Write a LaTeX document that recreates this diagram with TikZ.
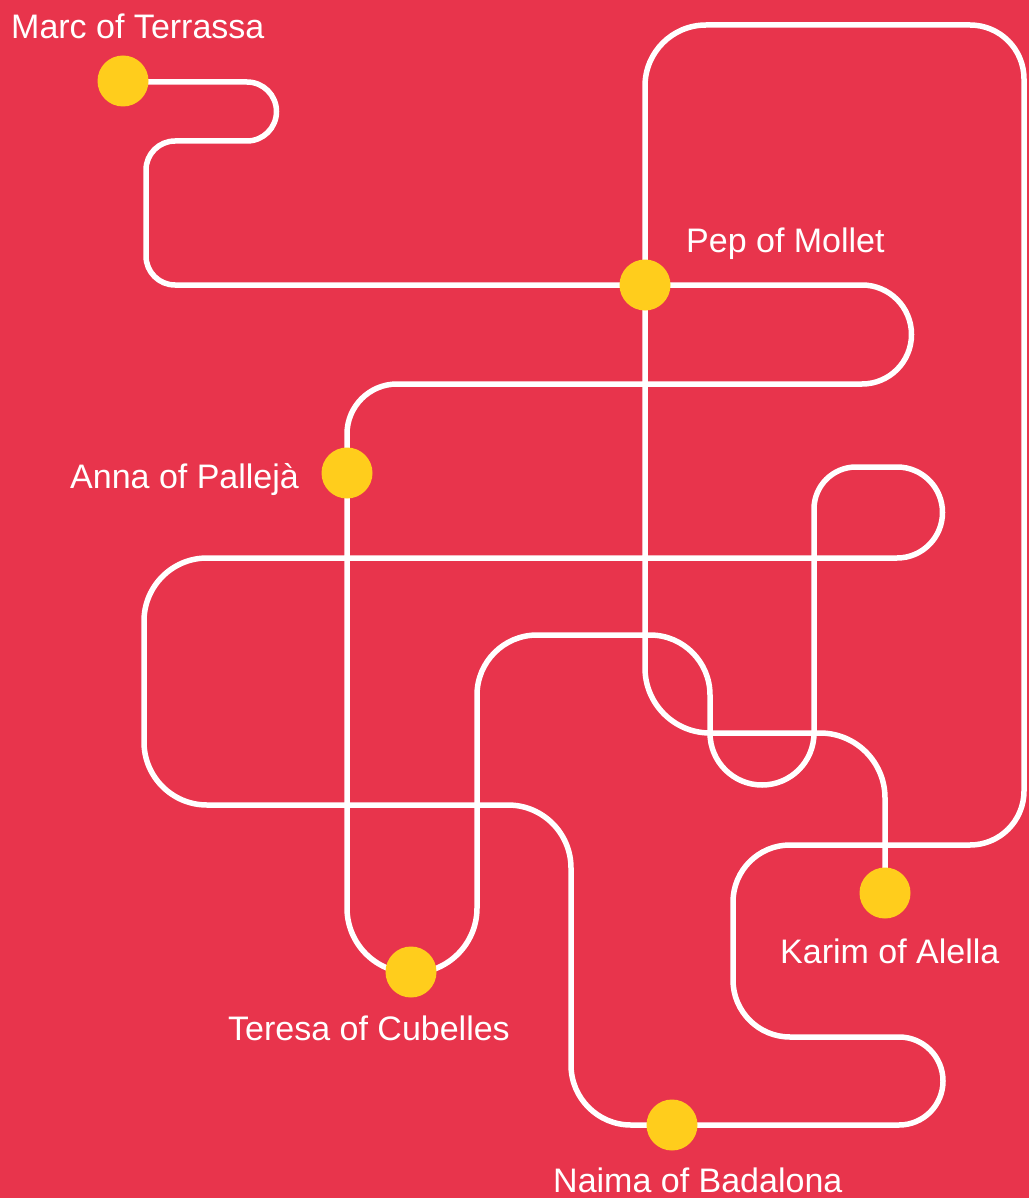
\documentclass[tikz,border=0pt]{standalone}
\usepackage{fontspec}
\setmainfont{Liberation Sans}
\definecolor{bgred}{RGB}{232,52,76}
\definecolor{dotyellow}{RGB}{255,205,28}
\begin{document}
\begin{tikzpicture}[x=1pt,y=1pt,
  route/.style={draw=white,line width=5.5pt,line join=round},
  stop/.style={circle,fill=dotyellow,minimum size=51pt,inner sep=0pt},
  townlabel/.style={anchor=base west,inner sep=0pt,text=white,font=\fontsize{34}{40}\selectfont}]
\useasboundingbox (0,0) rectangle (1029,-1198);
\fill[bgred] (0,0) rectangle (1029,-1198);

% stops
\coordinate (marc) at (123,-82);
\coordinate (pep) at (645,-285);
\coordinate (anna) at (347,-473);
\coordinate (teresa) at (411,-972);
\coordinate (naima) at (672,-1125);
\coordinate (karim) at (885,-893);

% the single winding line
\path[route] (marc)
  -- (247,-82) arc[start angle=90,end angle=-90,radius=29.5pt]
  -- (175,-141) arc[start angle=90,end angle=180,radius=29pt]
  -- (146,-256) arc[start angle=180,end angle=270,radius=29pt]
  -- (pep) -- (862,-285) arc[start angle=90,end angle=-90,radius=49.5pt]
  -- (397,-384) arc[start angle=90,end angle=180,radius=50pt]
  -- (anna) -- (347,-908) arc[start angle=180,end angle=360,radius=65pt]
  -- (477,-695) arc[start angle=180,end angle=90,radius=60pt]
  -- (650,-635) arc[start angle=90,end angle=0,radius=60pt]
  -- (710,-733) arc[start angle=180,end angle=360,radius=52pt]
  -- (814,-509) arc[start angle=180,end angle=90,radius=42pt]
  -- (897,-467) arc[start angle=90,end angle=-90,radius=45.5pt]
  -- (207,-558) arc[start angle=90,end angle=180,radius=63pt]
  -- (144,-742) arc[start angle=180,end angle=270,radius=63pt]
  -- (508,-805) arc[start angle=90,end angle=0,radius=63pt]
  -- (571,-1065) arc[start angle=180,end angle=270,radius=60pt]
  -- (naima) -- (899,-1125) arc[start angle=-90,end angle=90,radius=44pt]
  -- (790,-1037) arc[start angle=270,end angle=180,radius=57pt]
  -- (733,-902) arc[start angle=180,end angle=90,radius=57pt]
  -- (970,-845) arc[start angle=270,end angle=360,radius=54pt]
  -- (1024,-79) arc[start angle=0,end angle=90,radius=54pt]
  -- (706,-25) arc[start angle=90,end angle=180,radius=61pt]
  -- (645,-668) arc[start angle=180,end angle=270,radius=65pt]
  -- (820,-733) arc[start angle=90,end angle=0,radius=65pt]
  -- (karim);

% dots on top of the line
\node[stop] (marcdot) at (123,-81) {};
\node[stop] (pepdot) at (pep) {};
\node[stop] (annadot) at (anna) {};
\node[stop] (teresadot) at (teresa) {};
\node[stop] (naimadot) at (naima) {};
\node[stop] (karimdot) at (karim) {};

% names
\node[townlabel] (marclbl) at (11,-39) {Marc of Terrassa};
\node[townlabel] (peplbl) at (686,-252) {Pep of Mollet};
\node[townlabel] (annalbl) at (70,-488) {Anna of Pallejà};
\node[townlabel] (teresalbl) at (228,-1040) {Teresa of Cubelles};
\node[townlabel] (karimlbl) at (780,-963) {Karim of Alella};
\node[townlabel] (naimalbl) at (553,-1192) {Naima of Badalona};
\end{tikzpicture}
\end{document}
